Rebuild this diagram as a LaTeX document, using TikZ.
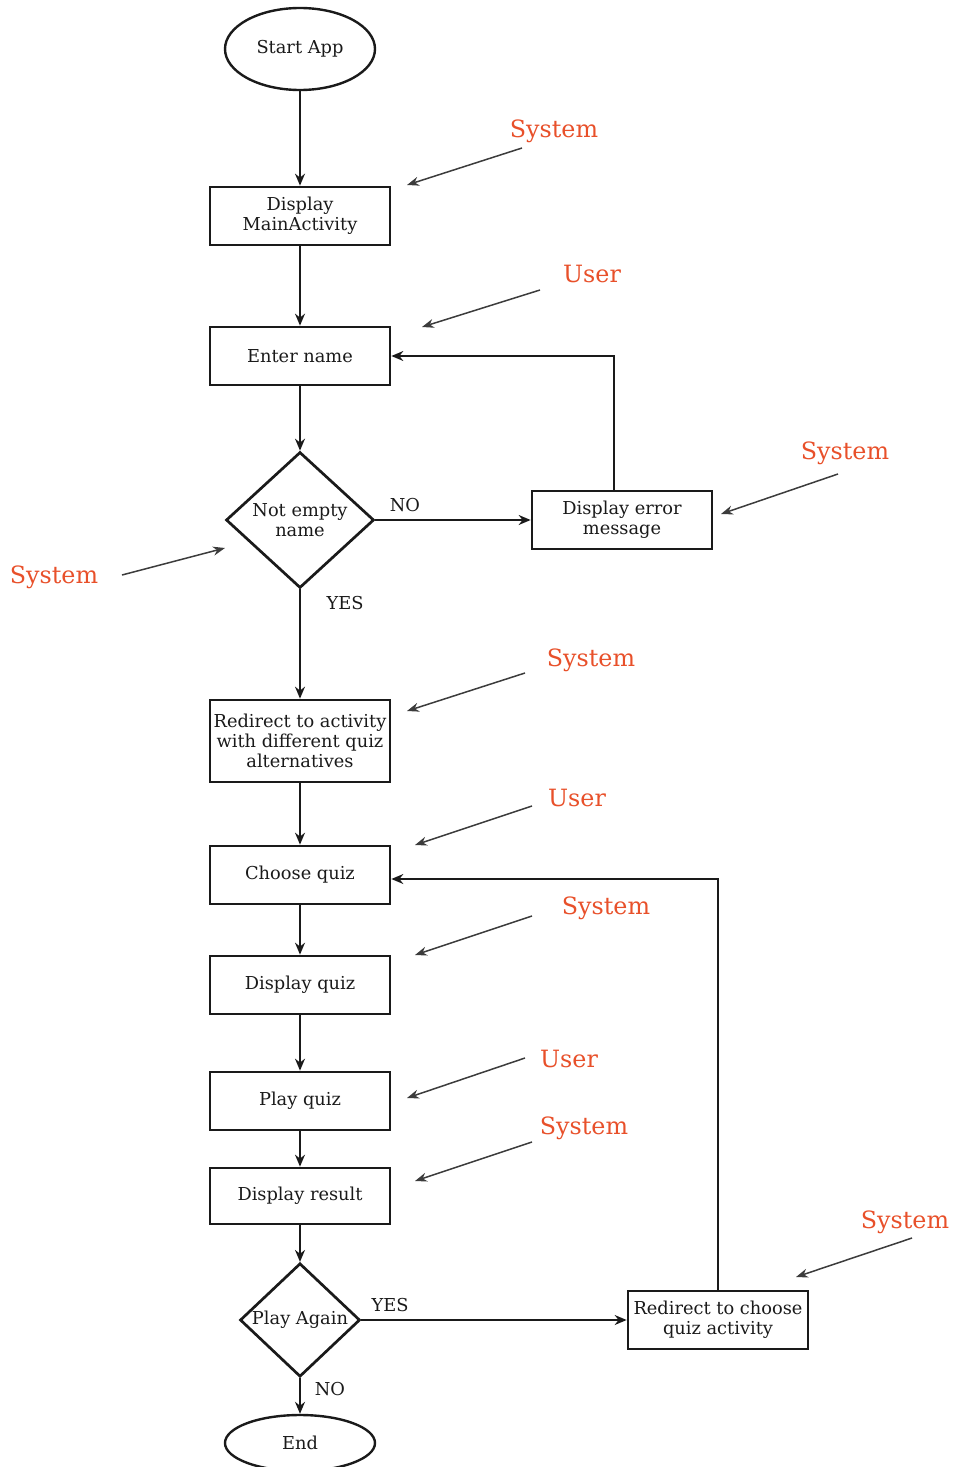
\documentclass[tikz,border=0pt]{standalone}
\usepackage{fontspec}
\setmainfont{DejaVu Serif}
\usetikzlibrary{shapes.geometric,arrows.meta}
\definecolor{annot}{HTML}{E8502A}
\definecolor{ink}{HTML}{1A1A1A}
\tikzset{
  box/.style={draw=ink,line width=1.35pt,rectangle,minimum width=90pt,minimum height=29pt,align=center,inner sep=1pt,font=\fontsize{8.9}{10}\selectfont,text=ink},
  term/.style={draw=ink,line width=1.2pt,ellipse,minimum width=75pt,minimum height=41pt,inner sep=0pt,font=\fontsize{8.9}{10}\selectfont,text=ink},
  dec/.style={draw=ink,line width=1.35pt,diamond,inner sep=0pt,align=center,font=\fontsize{8.9}{10}\selectfont,text=ink},
  flow/.style={draw=ink,line width=0.8pt,-{Stealth[length=6pt,width=5pt]}},
  role/.style={text=annot,font=\fontsize{11.9}{13}\selectfont,inner sep=0pt},
  point/.style={draw=ink!85,line width=0.75pt,-{Stealth[length=6pt,width=4.5pt]}},
  lbl/.style={font=\fontsize{8.9}{10}\selectfont,text=ink,inner sep=0pt}
}
\begin{document}
\begin{tikzpicture}[x=0.5pt,y=-0.5pt]
\useasboundingbox (0,0) rectangle (955,1467);
% main flow
\node[term] (start) at (300,49) {Start App};
\node[box] (main) at (300,216) {Display\\MainActivity};
\node[box] (enter) at (300,356) {Enter name};
\node[dec,minimum width=74pt,minimum height=68pt] (check) at (300,520) {Not empty\\name};
\node[box] (err) at (622,520) {Display error\\message};
\node[box,minimum height=41pt] (redir) at (300,741) {Redirect to activity\\with different quiz\\alternatives};
\node[box] (choose) at (300,875) {Choose quiz};
\node[box] (dquiz) at (300,985) {Display quiz};
\node[box] (play) at (300,1101) {Play quiz};
\node[box,minimum height=28pt] (result) at (300,1196) {Display result};
\node[dec,minimum width=60pt,minimum height=55pt] (again) at (300,1320) {Play Again};
\node[box] (back) at (718,1320) {Redirect to choose\\quiz activity};
\node[term,minimum height=28pt] (end) at (300,1443) {End};
% connectors
\draw[flow] (start) -- (main);
\draw[flow] (main) -- (enter);
\draw[flow] (enter) -- (check);
\draw[flow] (check) -- (err);
\draw[flow] (check) -- (redir);
\draw[flow] (redir) -- (choose);
\draw[flow] (choose) -- (dquiz);
\draw[flow] (dquiz) -- (play);
\draw[flow] (play) -- (result);
\draw[flow] (result) -- (again);
\draw[flow] (again) -- (back);
\draw[flow] (again) -- (end);
\draw[flow] ([xshift=-4pt]err.north) |- (enter.east);
\draw[flow] (back.north) |- ([yshift=-2pt]choose.east);
% branch labels
\node[lbl] (no1) at (405,505) {NO};
\node[lbl] (yes1) at (345,603) {YES};
\node[lbl] (yes2) at (390,1305) {YES};
\node[lbl] (no2) at (330,1389) {NO};
% role annotations
\node[role] (r1) at (554,131) {System};
\coordinate (r1a) at (522,148); \coordinate (r1b) at (407,185);
\draw[point] (r1a) -- (r1b);
\node[role] (r2) at (592,274) {User};
\coordinate (r2a) at (540,290); \coordinate (r2b) at (422,327);
\draw[point] (r2a) -- (r2b);
\node[role] (r3) at (845,453) {System};
\coordinate (r3a) at (838,474); \coordinate (r3b) at (721,514);
\draw[point] (r3a) -- (r3b);
\node[role] (r4) at (54,577) {System};
\coordinate (r4a) at (122,575); \coordinate (r4b) at (225,548);
\draw[point] (r4a) -- (r4b);
\node[role] (r5) at (591,660) {System};
\coordinate (r5a) at (525,673); \coordinate (r5b) at (407,711);
\draw[point] (r5a) -- (r5b);
\node[role] (r6) at (577,798) {User};
\coordinate (r6a) at (532,806); \coordinate (r6b) at (415,845);
\draw[point] (r6a) -- (r6b);
\node[role] (r7) at (606,908) {System};
\coordinate (r7a) at (532,916); \coordinate (r7b) at (415,955);
\draw[point] (r7a) -- (r7b);
\node[role] (r8) at (569,1059) {User};
\coordinate (r8a) at (525,1058); \coordinate (r8b) at (407,1098);
\draw[point] (r8a) -- (r8b);
\node[role] (r9) at (584,1128) {System};
\coordinate (r9a) at (532,1142); \coordinate (r9b) at (415,1181);
\draw[point] (r9a) -- (r9b);
\node[role] (r10) at (905,1222) {System};
\coordinate (r10a) at (912,1238); \coordinate (r10b) at (796,1277);
\draw[point] (r10a) -- (r10b);
\end{tikzpicture}
\end{document}
